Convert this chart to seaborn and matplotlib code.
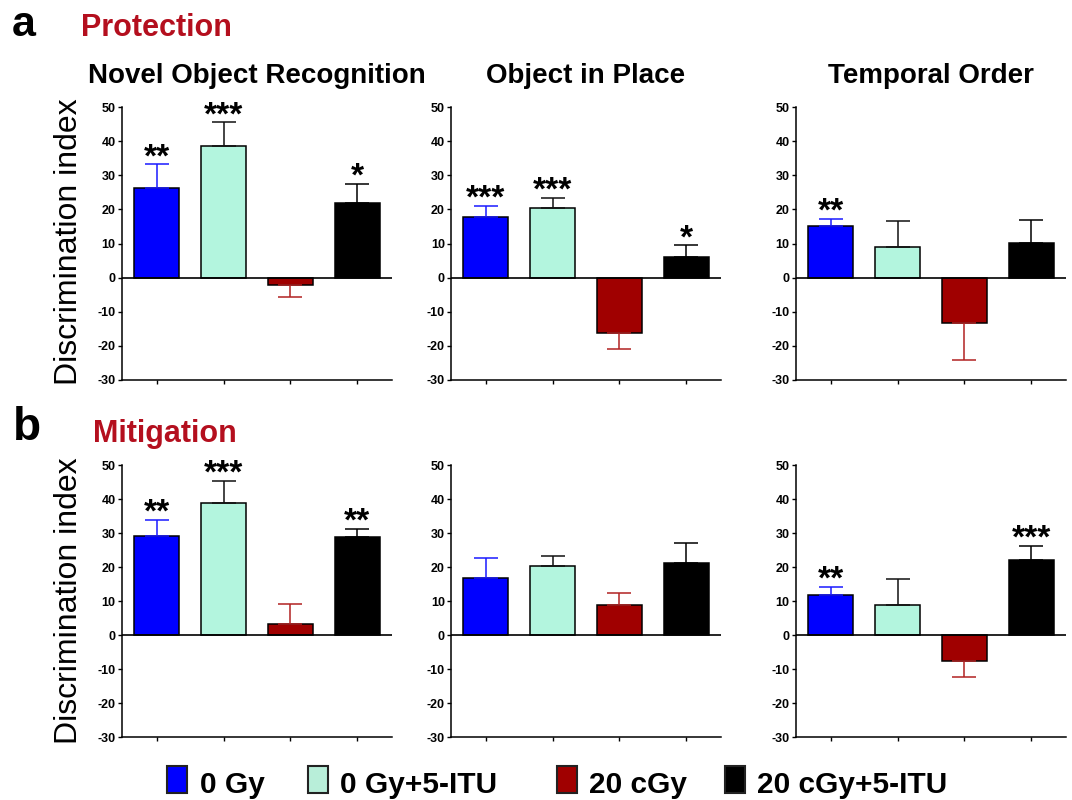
import matplotlib
matplotlib.use("Agg")
import matplotlib.pyplot as plt
from matplotlib.patches import Rectangle
import seaborn as sns
import pandas as pd

# ---------------- data ----------------
groups = ["0 Gy", "0 Gy+5-ITU", "20 cGy", "20 cGy+5-ITU"]
tests = ["Novel Object Recognition", "Object in Place", "Temporal Order"]
rows = ["Protection", "Mitigation"]
row_letters = ["a", "b"]

prot_nor_mean = [26.4, 38.7, -2.2, 21.9]
prot_nor_sem = [6.85, 6.8, 3.45, 5.6]
prot_nor_sig = ["**", "***", "", "*"]

prot_oip_mean = [17.7, 20.3, -16.1, 5.9]
prot_oip_sem = [3.4, 3.1, 4.7, 3.6]
prot_oip_sig = ["***", "***", "", "*"]

prot_to_mean = [15.0, 8.9, -13.4, 10.2]
prot_to_sem = [2.3, 7.7, 10.6, 6.7]
prot_to_sig = ["**", "", "", ""]

mit_nor_mean = [29.2, 38.7, 3.2, 28.7]
mit_nor_sem = [4.7, 6.7, 5.8, 2.5]
mit_nor_sig = ["**", "***", "", "**"]

mit_oip_mean = [16.9, 20.2, 8.8, 21.2]
mit_oip_sem = [5.8, 2.9, 3.7, 6.0]
mit_oip_sig = ["", "", "", ""]

mit_to_mean = [11.9, 8.8, -7.7, 22.2]
mit_to_sem = [2.3, 7.8, 4.6, 4.0]
mit_to_sig = ["**", "", "", "***"]

yticks = [-30, -20, -10, 0, 10, 20, 30, 40, 50]

bar_colors = ["#0000FF", "#B3F5DE", "#A00000", "#000000"]
err_colors = ["#1A1AFF", "#111111", "#B22222", "#000000"]
legend_colors = ["#0000FF", "#B8EED9", "#A00000", "#000000"]
title_red = "#B40F1E"

panels = [
    [(prot_nor_mean, prot_nor_sem, prot_nor_sig),
     (prot_oip_mean, prot_oip_sem, prot_oip_sig),
     (prot_to_mean, prot_to_sem, prot_to_sig)],
    [(mit_nor_mean, mit_nor_sem, mit_nor_sig),
     (mit_oip_mean, mit_oip_sem, mit_oip_sig),
     (mit_to_mean, mit_to_sem, mit_to_sig)],
]

# ---------------- style ----------------
sns.set_theme(style="ticks")
plt.rcParams["font.family"] = ["Liberation Sans", "DejaVu Sans"]
plt.rcParams["axes.unicode_minus"] = False
plt.rcParams["text.color"] = "black"
plt.rcParams["axes.labelcolor"] = "black"
plt.rcParams["xtick.color"] = "black"
plt.rcParams["ytick.color"] = "black"
plt.rcParams["axes.edgecolor"] = "black"

W, H = 1072, 800
fig = plt.figure(figsize=(W / 100, H / 100), dpi=100)

def fx(px):
    return px / W

def fy(py):
    return 1 - py / H

col_left = [122, 451, 796]
col_w = 270
row_top = [107, 465]
row_bot = [380, 737]
ylabel_center = [242, 601]

for r in range(2):
    for c in range(3):
        means, sems, sigs = panels[r][c]
        ax = fig.add_axes([fx(col_left[c]), fy(row_bot[r]), col_w / W,
                           (row_bot[r] - row_top[r]) / H])
        df = pd.DataFrame({"group": groups, "value": means})
        sns.barplot(data=df, x="group", y="value", hue="group", order=groups,
                    hue_order=groups, palette=bar_colors, saturation=1,
                    legend=False, errorbar=None, width=0.68,
                    edgecolor="black", linewidth=1.1, ax=ax, zorder=2)
        for i, (m, s, sg) in enumerate(zip(means, sems, sigs)):
            if m >= 0:
                yerr = [[0], [s]]
                top = m + s
            else:
                yerr = [[s], [0]]
                top = None
            ax.errorbar([i], [m], yerr=yerr, fmt="none", ecolor=err_colors[i],
                        elinewidth=1.1, capsize=8.3, capthick=1.1, zorder=3)
            if sg:
                ax.text(i, top - 0.6, sg, ha="center", va="baseline",
                        fontsize=24, fontweight="bold", color="black")
        ax.axhline(0, color="black", lw=1.2, zorder=4)
        ax.set_xlim(-0.52, 3.52)
        ax.set_ylim(-30, 50)
        ax.set_yticks(yticks)
        ax.set_yticklabels([str(t) for t in yticks], fontsize=9,
                           fontweight="bold")
        ax.set_xticks(range(len(groups)))
        ax.set_xticklabels([])
        ax.set_xlabel("")
        ax.set_ylabel("")
        ax.tick_params(axis="both", direction="out", length=3, width=1.0,
                       pad=1.5, colors="black")
        for side in ["top", "right"]:
            ax.spines[side].set_visible(False)
        for side in ["left", "bottom"]:
            ax.spines[side].set_linewidth(1.1)
            ax.spines[side].set_color("black")
        ax.set_facecolor("white")
        ax.grid(False)
        if r == 0:
            fig.text(fx(col_left[c] + col_w / 2), fy(83), tests[c],
                     ha="center", va="baseline", fontsize=20,
                     fontweight="bold")
    fig.text(fx(69), fy(ylabel_center[r]),
             "Discrimination index", rotation=90, ha="center", va="center",
             fontsize=23)

# panel letters and row titles
fig.text(fx(12), fy(36), row_letters[0], ha="left", va="baseline",
         fontsize=31, fontweight="bold")
fig.text(fx(81), fy(36), rows[0], ha="left", va="baseline", fontsize=22,
         fontweight="bold", color=title_red)
fig.text(fx(13), fy(440), row_letters[1], ha="left", va="baseline",
         fontsize=33, fontweight="bold")
fig.text(fx(93), fy(442), rows[1], ha="left", va="baseline", fontsize=22,
         fontweight="bold", color=title_red)

# legend
patch_x = [167, 308, 557, 725]
text_x = [200, 340, 589, 757]
for i, g in enumerate(groups):
    rect = Rectangle((fx(patch_x[i]), fy(793)), 20 / W, 27 / H,
                     transform=fig.transFigure, facecolor=legend_colors[i],
                     edgecolor="#222222", linewidth=1.5)
    fig.patches.append(rect)
    fig.text(fx(text_x[i]), fy(793), g, ha="left", va="baseline",
             fontsize=21.5, fontweight="bold")

fig.savefig("out.png", dpi=100, facecolor="white")
